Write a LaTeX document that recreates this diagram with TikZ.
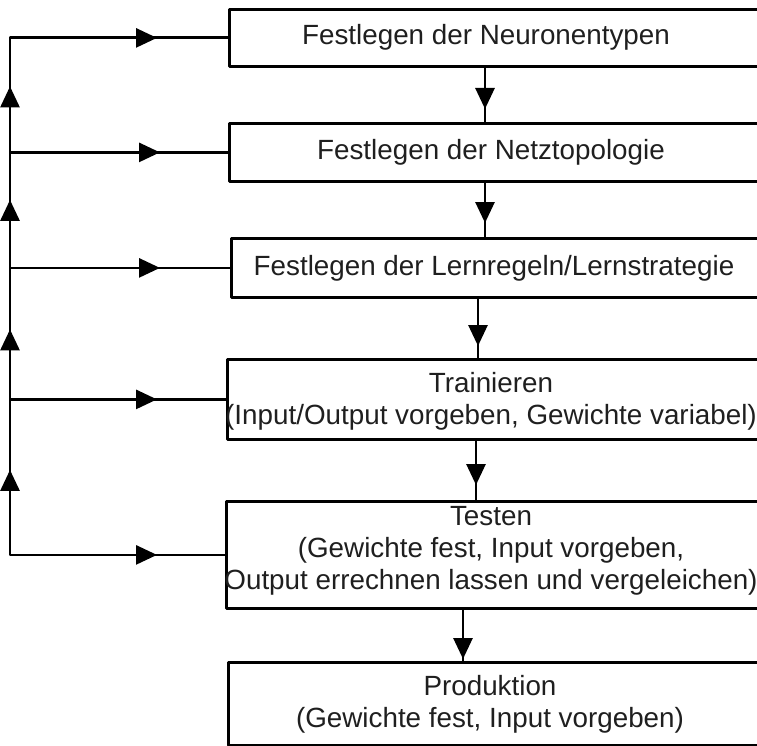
\documentclass[tikz,border=0pt]{standalone}
\usepackage{fontspec}
\setmainfont{Liberation Sans}
\usetikzlibrary{arrows.meta,decorations.markings}
\begin{document}
\begin{tikzpicture}[x=1pt,y=-1pt,
  line width=2.8pt, line join=round,
  box/.style={draw=black, line width=2.8pt, inner sep=0pt, anchor=north west, minimum width=560pt},
  boxtext/.style={inner sep=0pt, align=center, text=black!88, font=\fontsize{27.8}{32}\selectfont},
  tipat/.style={postaction={decorate}, decoration={markings, mark=at position #1 with {\arrow{Triangle[length=21pt,width=19pt]}}}}
]
\useasboundingbox (0,0) rectangle (757,746);
\clip (0,0) rectangle (757,746);

% process boxes (open to the right)
\node[box, minimum height=57pt] (b1) at (228,8) {};
\node[box, minimum height=58pt] (b2) at (228,122) {};
\node[box, minimum height=59pt] (b3) at (230,237) {};
\node[box, minimum height=80pt] (b4) at (226,358) {};
\node[box, minimum height=107pt] (b5) at (225,500) {};
\node[box, minimum height=83pt] (b6) at (227,661) {};

% box captions
\node[boxtext] (t1) at (486,37) {Festlegen der Neuronentypen};
\node[boxtext] (t2) at (491,152) {Festlegen der Netztopologie};
\node[boxtext] (t3) at (494,268) {Festlegen der Lernregeln/Lernstrategie};
\node[boxtext] (t4) at (491,401) {Trainieren\\(Input/Output vorgeben, Gewichte variabel)};
\node[boxtext] (t5) at (491,551) {Testen\\(Gewichte fest, Input vorgeben,\\Output errechnen lassen und vergeleichen)};
\node[boxtext] (t6) at (490,704) {Produktion\\(Gewichte fest, Input vorgeben)};

% main flow downwards
\coordinate (d1) at (485,0);
\coordinate (d2) at (485,0);
\coordinate (d3) at (478,0);
\coordinate (d4) at (476,0);
\coordinate (d5) at (463,0);
\draw[tipat=-13pt] (b1.south -| d1) -- (b2.north -| d1);
\draw[tipat=-14pt] (b2.south -| d2) -- (b3.north -| d2);
\draw[tipat=-12pt] (b3.south -| d3) -- (b4.north -| d3);
\draw[tipat=-15pt] (b4.south -| d4) -- (b5.north -| d4);
\draw[tipat=-2pt] (b5.south -| d5) -- (b6.north -| d5);

% feedback rail on the left
\coordinate (rail) at (10,0);
\draw (b5.west) -- (b5.west -| rail) -- (b1.west -| rail) -- (b1.west);
\draw[tipat=85pt] (b5.west -| rail) -- (b4.west -| rail);
\draw[tipat=70pt] (b4.west -| rail) -- (b3.west -| rail);
\draw[tipat=68pt] (b3.west -| rail) -- (b2.west -| rail);
\draw[tipat=66pt] (b2.west -| rail) -- (b1.west -| rail);
\draw[tipat=147pt] (b1.west -| rail) -- (b1.west);
\draw[tipat=150pt] (b2.west -| rail) -- (b2.west);
\draw[tipat=150pt] (b3.west -| rail) -- (b3.west);
\draw[tipat=147pt] (b4.west -| rail) -- (b4.west);
\draw[tipat=147pt] (b5.west -| rail) -- (b5.west);
\end{tikzpicture}
\end{document}
